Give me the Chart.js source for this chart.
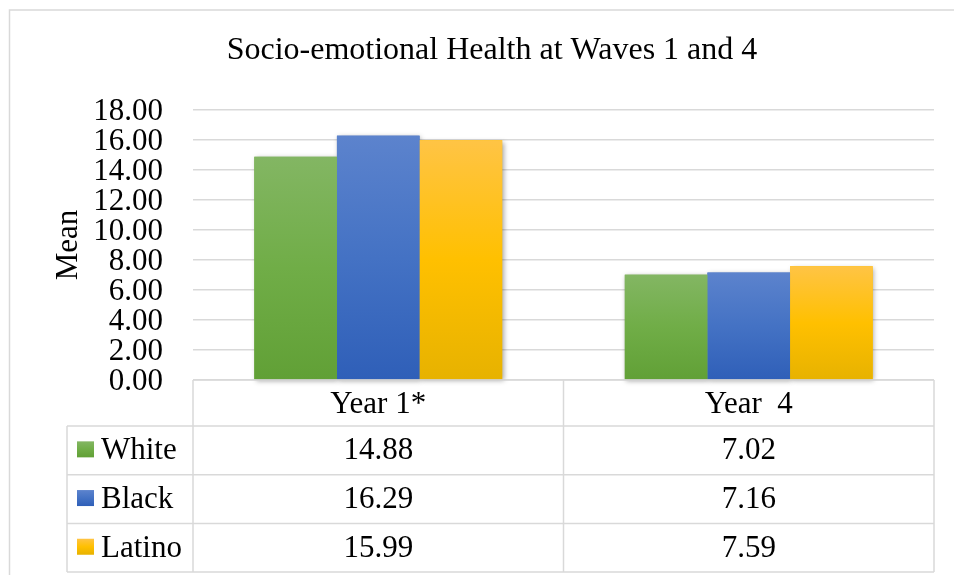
<!DOCTYPE html>
<html>
<head>
<meta charset="utf-8">
<script src="https://cdn.jsdelivr.net/npm/chart.js@4/dist/chart.umd.min.js"></script>
<style>
html,body{margin:0;padding:0;background:#fff;}
#wrap{position:relative;width:954px;height:575px;}
</style>
</head>
<body>
<div id="wrap"><canvas id="c" width="954" height="575"></canvas></div>
<script>
const titleText = "Socio-emotional Health at Waves 1 and 4";
const yAxisTitle = "Mean";
const categories = ["Year 1*", "Year  4"];
const seriesNames = ["White", "Black", "Latino"];
const whiteValues = [14.88, 7.02];
const blackValues = [16.29, 7.16];
const latinoValues = [15.99, 7.59];
const yMin = 0, yMax = 18, yStep = 2;

const FONT = "'Liberation Serif','Times New Roman',serif";
const GRID = '#d9d9d9';
const gradStops = [
  ['#83b663', '#70ad47', '#61a036'],
  ['#5c83cd', '#4472c4', '#2f5fb8'],
  ['#ffc445', '#ffc000', '#e7b200']
];
const seriesValues = [whiteValues, blackValues, latinoValues];

function makeGrad(ctx2d, top, bottom, i) {
  const g = ctx2d.createLinearGradient(0, top, 0, bottom);
  g.addColorStop(0, gradStops[i][0]);
  g.addColorStop(0.5, gradStops[i][1]);
  g.addColorStop(1, gradStops[i][2]);
  return g;
}

function barFill(i) {
  return (c) => {
    const chart = c.chart;
    const ys = chart.scales && chart.scales.y;
    if (!ys || c.type !== 'data' || typeof c.raw !== 'number') return gradStops[i][1];
    const top = ys.getPixelForValue(c.raw);
    const bottom = ys.getPixelForValue(0);
    if (!isFinite(top) || !isFinite(bottom) || bottom - top < 1) return gradStops[i][1];
    return makeGrad(chart.ctx, top, bottom, i);
  };
}

const bgPlugin = {
  id: 'bg',
  beforeDraw(chart) {
    const ctx = chart.ctx;
    ctx.save();
    ctx.fillStyle = '#fff';
    ctx.fillRect(0, 0, chart.width, chart.height);
    ctx.strokeStyle = GRID;
    ctx.lineWidth = 1.5;
    ctx.strokeRect(9.5, 10, 1000, 700);
    ctx.restore();
  }
};

const shadowPlugin = {
  id: 'barShadow',
  beforeDatasetsDraw(chart) {
    const ctx = chart.ctx;
    ctx.save();
    ctx.shadowColor = 'rgba(0,0,0,0.35)';
    ctx.shadowBlur = 5;
    ctx.shadowOffsetX = 1.5;
    ctx.shadowOffsetY = 1.5;
    chart.data.datasets.forEach((ds, i) => {
      const meta = chart.getDatasetMeta(i);
      meta.data.forEach((el) => {
        const p = el.getProps(['x', 'y', 'base', 'width'], true);
        ctx.fillStyle = gradStops[i][1];
        ctx.fillRect(p.x - p.width / 2, p.y, p.width, p.base - p.y);
      });
    });
    ctx.restore();
  }
};

const tablePlugin = {
  id: 'dataTable',
  afterDraw(chart) {
    const ctx = chart.ctx;
    const a = chart.chartArea;
    const xs = chart.scales.x;
    const top = a.bottom;
    const headerBottom = top + 46;
    const rowH = 48.7;
    const legendLeft = a.left - 126;
    const colEdges = [a.left];
    for (let k = 0; k < categories.length - 1; k++) {
      colEdges.push((xs.getPixelForTick(k) + xs.getPixelForTick(k + 1)) / 2);
    }
    colEdges.push(a.right);
    const bottom = headerBottom + rowH * seriesNames.length;

    ctx.save();
    ctx.strokeStyle = GRID;
    ctx.lineWidth = 1.5;
    ctx.beginPath();
    ctx.moveTo(a.left, top); ctx.lineTo(a.right, top);
    for (let r = 0; r <= seriesNames.length; r++) {
      const y = headerBottom + r * rowH;
      ctx.moveTo(legendLeft, y); ctx.lineTo(a.right, y);
    }
    colEdges.forEach((x) => { ctx.moveTo(x, top); ctx.lineTo(x, bottom); });
    ctx.moveTo(legendLeft, headerBottom); ctx.lineTo(legendLeft, bottom);
    ctx.stroke();

    ctx.font = "31px " + FONT;
    ctx.fillStyle = '#000';
    ctx.textBaseline = 'middle';
    seriesNames.forEach((name, i) => {
      const cy = headerBottom + rowH * i + rowH / 2;
      const sx = legendLeft + 10, sy = cy - 9, sw = 17, sh = 16;
      ctx.fillStyle = makeGrad(ctx, sy, sy + sh, i);
      ctx.fillRect(sx, sy, sw, sh);
      ctx.fillStyle = '#000';
      ctx.textAlign = 'left';
      ctx.fillText(name, legendLeft + 34, cy + 1);
      ctx.textAlign = 'center';
      seriesValues[i].forEach((v, k) => {
        ctx.fillText(v.toFixed(2), (colEdges[k] + colEdges[k + 1]) / 2, cy + 1);
      });
    });
    ctx.restore();
  }
};

new Chart(document.getElementById('c'), {
  type: 'bar',
  data: {
    labels: categories,
    datasets: seriesNames.map((name, i) => ({
      label: name,
      data: seriesValues[i],
      backgroundColor: barFill(i),
      borderWidth: 0,
      categoryPercentage: 0.669,
      barPercentage: 1.0
    }))
  },
  options: {
    responsive: false,
    animation: false,
    devicePixelRatio: 1,
    layout: { padding: { left: 50, right: 20, top: 0, bottom: 0 } },
    plugins: {
      legend: { display: false },
      tooltip: { enabled: false },
      title: {
        display: true,
        text: titleText,
        color: '#000',
        font: { family: FONT, size: 32, weight: 'normal', lineHeight: 1.2 },
        padding: { top: 31, bottom: 40.6 }
      }
    },
    scales: {
      x: {
        grid: { display: false, drawTicks: false },
        border: { display: false },
        ticks: {
          color: '#000',
          font: { family: FONT, size: 31 },
          padding: 6,
          maxRotation: 0,
          autoSkip: false
        },
        afterFit(scale) { scale.height = 195; }
      },
      y: {
        min: yMin,
        max: yMax,
        grid: { color: GRID, lineWidth: 1.5, drawTicks: false },
        border: { display: false },
        ticks: {
          stepSize: yStep,
          autoSkip: false,
          labelOffset: 2,
          color: '#000',
          font: { family: FONT, size: 31, lineHeight: 1 },
          padding: 30,
          callback: (v) => Number(v).toFixed(2)
        },
        title: {
          display: true,
          text: yAxisTitle,
          color: '#000',
          font: { family: FONT, size: 31, lineHeight: 1.2 },
          padding: { top: 0, bottom: 0 }
        },
        afterFit(scale) { scale.width = 143; }
      }
    }
  },
  plugins: [bgPlugin, shadowPlugin, tablePlugin]
});
</script>
</body>
</html>
